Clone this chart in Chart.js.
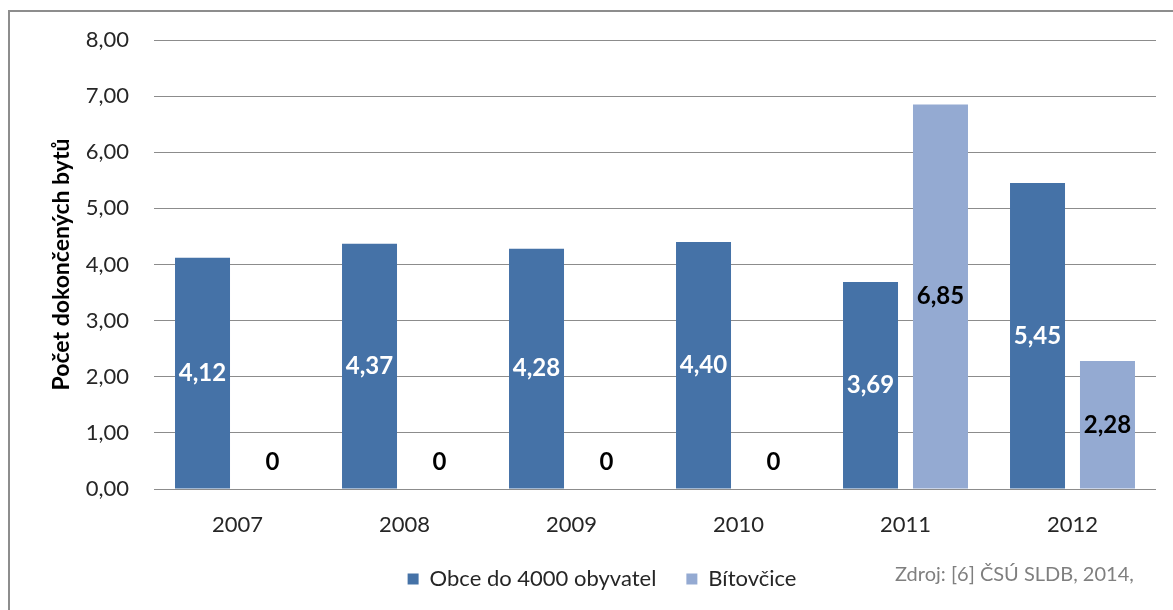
<!DOCTYPE html>
<html lang="cs">
<head>
<meta charset="utf-8">
<script src="https://cdn.jsdelivr.net/npm/chart.js@4.4.1/dist/chart.umd.min.js"></script>
<style>
  html, body { margin: 0; padding: 0; background: #fff; overflow: hidden; }
  #wrap { position: relative; width: 1173px; height: 610px; }
  #frame { position: absolute; left: 8px; top: 10px; width: 1200px; height: 700px; border: 2px solid #8d8d8d; }
  #c { position: absolute; left: 0; top: 0; }
  #src { position: absolute; left: 895px; top: 561px; font: 20px Lato, sans-serif; color: #7f7f7f; white-space: nowrap; }
</style>
</head>
<body>
<div id="wrap">
  <div id="frame"></div>
  <canvas id="c" width="1173" height="610"></canvas>
  <div id="src">Zdroj: [6] ČSÚ SLDB, 2014,</div>
</div>
<script>
const years = ['2007', '2008', '2009', '2010', '2011', '2012'];
const obce = [4.12, 4.37, 4.28, 4.40, 3.69, 5.45];
const bitovcice = [0, 0, 0, 0, 6.85, 2.28];
const seriesNames = ['Obce do 4000 obyvatel', 'Bítovčice'];

const FONT = 'Lato, "Open Sans", sans-serif';
const fmt = v => v === 0 ? '0' : v.toFixed(2).replace('.', ',');

// value labels inside the bars (white on dark, black on light, zeros just above the axis)
const barLabels = {
  id: 'barLabels',
  afterDatasetsDraw(chart) {
    const ctx = chart.ctx;
    ctx.save();
    ctx.font = 'bold 24px ' + FONT;
    ctx.textAlign = 'center';
    ctx.textBaseline = 'middle';
    chart.data.datasets.forEach((ds, di) => {
      const meta = chart.getDatasetMeta(di);
      meta.data.forEach((el, i) => {
        const v = ds.data[i];
        const p = el.getProps(['x', 'y', 'base'], true);
        const y = v === 0 ? p.base - 27 : (p.y + p.base) / 2;
        ctx.fillStyle = di === 0 && v !== 0 ? '#ffffff' : '#000000';
        ctx.fillText(fmt(v), p.x, y);
      });
    });
    ctx.restore();
  }
};

new Chart(document.getElementById('c'), {
  type: 'bar',
  data: {
    labels: years,
    datasets: [
      { label: seriesNames[0], data: obce, backgroundColor: '#4572a7' },
      { label: seriesNames[1], data: bitovcice, backgroundColor: '#94aad2' },
    ],
  },
  options: {
    responsive: false,
    animation: false,
    devicePixelRatio: 1,
    layout: { padding: { left: 48, right: 17, top: 40, bottom: 10 } },
    datasets: { bar: { categoryPercentage: 0.838, barPercentage: 0.786 } },
    scales: {
      x: {
        grid: { display: false },
        border: { display: false },
        ticks: { font: { family: FONT, size: 22 }, color: '#262626', padding: 15 },
        afterFit: s => { s.height = 49; },
      },
      y: {
        min: 0, max: 8,
        grid: { color: '#8c8c8c', lineWidth: 1, drawTicks: false },
        border: { display: false },
        ticks: { stepSize: 1, callback: v => v.toFixed(2).replace('.', ','), font: { family: FONT, size: 22 }, color: '#262626', padding: 25 },
        title: { display: true, text: 'Počet dokončených bytů', font: { family: FONT, size: 23, weight: 'bold' }, color: '#000', padding: 0 },
        afterFit: s => { s.width = 106; },
      },
    },
    plugins: {
      legend: {
        position: 'bottom',
        labels: { boxWidth: 11, boxHeight: 11, padding: 30, font: { family: FONT, size: 22 }, color: '#262626' },
      },
      tooltip: { enabled: false },
    },
  },
  plugins: [barLabels],
});
</script>
</body>
</html>
